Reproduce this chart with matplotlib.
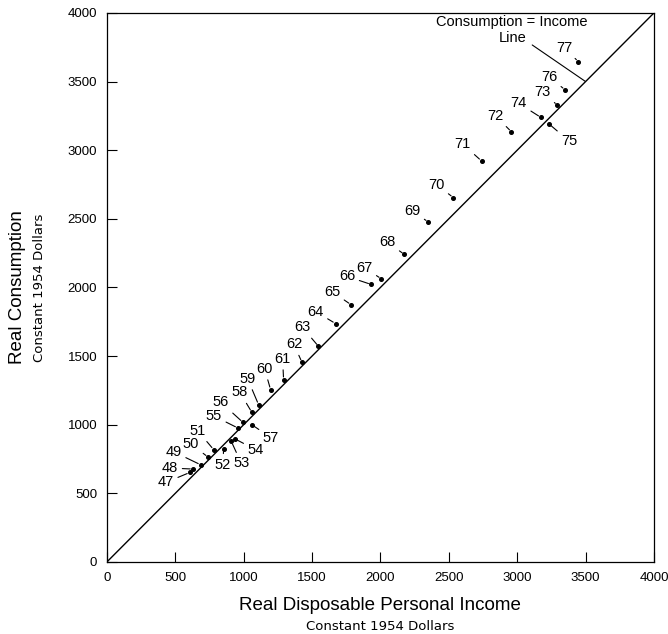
import matplotlib
matplotlib.use("Agg")
import matplotlib.pyplot as plt

plt.rcParams.update({"font.family": ["Liberation Sans", "DejaVu Sans"], "font.size": 9.5})

# --- data (constant 1954 dollars) ---
years = ["47", "48", "49", "50", "51", "52", "53", "54", "55", "56", "57", "58",
         "59", "60", "61", "62", "63", "64", "65", "66", "67", "68", "69", "70",
         "71", "72", "73", "74", "75", "76", "77"]
income = [606, 630, 686, 740, 781, 854, 910, 934, 958, 995, 1060, 1060,
          1109, 1197, 1292, 1426, 1547, 1672, 1786, 1932, 2007, 2175, 2350, 2533,
          2739, 2958, 3294, 3173, 3234, 3350, 3447]
consumption = [652, 677, 708, 764, 818, 825, 878, 898, 976, 1017, 1000, 1090,
               1146, 1255, 1328, 1455, 1571, 1737, 1874, 2022, 2063, 2241, 2477, 2655,
               2922, 3134, 3328, 3239, 3190, 3440, 3645]
ticks = [0, 500, 1000, 1500, 2000, 2500, 3000, 3500, 4000]

# label offsets from each dot, in pixels
label_offsets = {
    "47": (-24, -10), "48": (-23, 1), "49": (-27, 13), "50": (-17, 13), "51": (-16, 19),
    "52": (-1, -16), "53": (10, -22), "54": (21, -11), "55": (-24, 12), "56": (-22, 20),
    "57": (19, -13), "58": (-12, 20), "59": (-11, 26), "60": (-6, 21), "61": (-1, 21),
    "62": (-8, 18), "63": (-16, 19), "64": (-20, 12), "65": (-19, 13), "66": (-24, 8),
    "67": (-17, 11), "68": (-17, 12), "69": (-16, 11), "70": (-17, 13), "71": (-19, 17),
    "72": (-16, 16), "73": (-15, 13), "74": (-22, 14), "75": (20, -17), "76": (-16, 13),
    "77": (-14, 14),
}

fig = plt.figure(figsize=(6.68, 6.34), dpi=100)
ax = fig.add_axes([0.160, 0.1136, 0.819, 0.866])

ax.plot([0, 4000], [0, 4000], color="black", lw=1.0)
ax.plot(income, consumption, "o", color="black", ms=2.6)

for yr, xv, yv in zip(years, income, consumption):
    ax.annotate(yr, (xv, yv), xytext=label_offsets[yr], textcoords="offset pixels",
                ha="center", va="center", fontsize=10.5,
                arrowprops=dict(arrowstyle="-", color="black", lw=0.8,
                                shrinkA=1, shrinkB=2))

ax.text(2963, 3934, "Consumption = Income", ha="center", va="center", fontsize=10.5)
ax.annotate("Line", (3500, 3500), xytext=(2963, 3818), ha="center", va="center",
            fontsize=10.5,
            arrowprops=dict(arrowstyle="-", color="black", lw=0.8, shrinkA=3, shrinkB=0,
                            relpos=(1.0, 0.3)))

ax.set_xlim(0, 4000)
ax.set_ylim(0, 4000)
ax.set_xticks(ticks)
ax.set_yticks(ticks)
ax.tick_params(direction="in", length=7, width=0.8, pad=7, labelsize=9.5,
               top=False, right=False)
for s in ax.spines.values():
    s.set_linewidth(0.9)

# axis titles with a smaller subtitle line
ax.text(0.5, -0.080, "Real Disposable Personal Income", transform=ax.transAxes,
        ha="center", va="center", fontsize=13.5)
ax.text(0.5, -0.118, "Constant 1954 Dollars", transform=ax.transAxes,
        ha="center", va="center", fontsize=9.5, family="DejaVu Sans")
ax.text(-0.164, 0.5, "Real Consumption", transform=ax.transAxes,
        ha="center", va="center", rotation=90, fontsize=13.5)
ax.text(-0.123, 0.5, "Constant 1954 Dollars", transform=ax.transAxes,
        ha="center", va="center", rotation=90, fontsize=9.5, family="DejaVu Sans")

fig.savefig("out.png", dpi=100)
